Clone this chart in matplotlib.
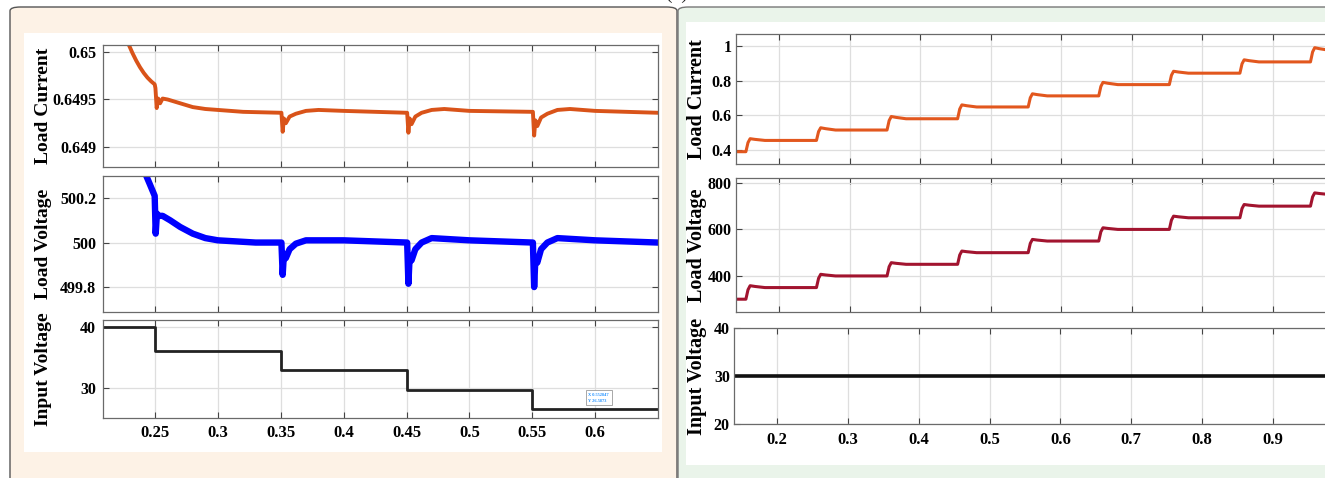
import numpy as np
import matplotlib
matplotlib.use("Agg")
import matplotlib.pyplot as plt
from matplotlib.patches import FancyBboxPatch, Rectangle

# ── DATA ────────────────────────────────────────────────────
# (a) varying input voltage, regulated output
t_in_left = [0.209, 0.25, 0.25, 0.35, 0.35, 0.45, 0.45, 0.55, 0.55, 0.65]
v_in_left = [40.0, 40.0, 36.0, 36.0, 33.0, 33.0, 29.7, 29.7, 26.6, 26.6]

t_cur_left = [0.229, 0.232, 0.235, 0.238, 0.241, 0.244, 0.247, 0.2497, 0.2503, 0.2513,
              0.2525, 0.254, 0.256, 0.26, 0.27, 0.28, 0.29, 0.30, 0.32, 0.3505,
              0.3515, 0.3525, 0.354, 0.357, 0.362, 0.37, 0.38, 0.40, 0.4505, 0.4515,
              0.4525, 0.454, 0.457, 0.462, 0.47, 0.48, 0.50, 0.5505, 0.5515, 0.5525,
              0.554, 0.557, 0.562, 0.57, 0.58, 0.60, 0.65]
i_load_left = [0.65008, 0.64999, 0.64991, 0.64984, 0.64978, 0.64973, 0.64969, 0.64966, 0.64962, 0.64941,
               0.64951, 0.64946, 0.64951, 0.64950, 0.64946, 0.64942, 0.64940, 0.64939, 0.64937, 0.64936,
               0.64916, 0.64930, 0.64925, 0.64932, 0.64935, 0.64938, 0.64939, 0.64938, 0.64936, 0.64915,
               0.64930, 0.64924, 0.64932, 0.64936, 0.64939, 0.64940, 0.64938, 0.64937, 0.64912, 0.64928,
               0.64922, 0.64931, 0.64935, 0.64939, 0.64940, 0.64938, 0.64936]

t_vout_left = [0.243, 0.246, 0.2497, 0.2505, 0.2515, 0.2525, 0.256, 0.262, 0.27, 0.28,
               0.29, 0.30, 0.33, 0.3505, 0.3515, 0.3525, 0.354, 0.357, 0.362, 0.37,
               0.40, 0.4505, 0.4515, 0.4525, 0.454, 0.457, 0.462, 0.47, 0.50, 0.5505,
               0.5515, 0.5525, 0.554, 0.557, 0.562, 0.57, 0.60, 0.65]
v_out_left = [500.30, 500.26, 500.21, 500.04, 500.13, 500.12, 500.12, 500.10, 500.07, 500.04,
              500.02, 500.01, 500.00, 500.00, 499.855, 499.95, 499.93, 499.97, 499.995, 500.01,
              500.01, 500.00, 499.815, 499.94, 499.92, 499.97, 500.00, 500.02, 500.01, 500.00,
              499.80, 499.93, 499.91, 499.97, 500.00, 500.02, 500.01, 500.00]

# (b) constant input voltage, stepped load
t_steps_right = [0.15, 0.25, 0.35, 0.45, 0.55, 0.65, 0.75, 0.85, 0.95]
i_levels_right = [0.39, 0.455, 0.515, 0.58, 0.648, 0.712, 0.777, 0.843, 0.908, 0.975]
i_peaks_right = [0.465, 0.528, 0.593, 0.66, 0.724, 0.79, 0.854, 0.92, 0.99]
v_levels_right = [300, 350, 400, 450, 500, 550, 600, 650, 700, 750]
v_peaks_right = [358, 407, 457, 507, 557, 607, 657, 707, 757]
v_in_right = 30

xticks_left = [0.25, 0.3, 0.35, 0.4, 0.45, 0.5, 0.55, 0.6]
xticks_right = [0.2, 0.3, 0.4, 0.5, 0.6, 0.7, 0.8, 0.9]

# ── STYLE ───────────────────────────────────────────────────
plt.rcParams["font.family"] = ["Liberation Serif", "DejaVu Serif"]
plt.rcParams["font.weight"] = "bold"

W, H = 1325, 478
fig = plt.figure(figsize=(W / 100, H / 100), dpi=100)
fig.patch.set_facecolor("white")


def fx(px):
    return px / W


def fy(py):
    return 1 - py / H


# panel backgrounds
fig.patches.append(FancyBboxPatch((fx(10), fy(490)), fx(667), (490 - 7) / H,
                                  boxstyle="round,pad=0,rounding_size=0.008",
                                  transform=fig.transFigure, facecolor="#fdf2e6",
                                  edgecolor="#555555", linewidth=1.0, zorder=0))
fig.patches.append(FancyBboxPatch((fx(678), fy(490)), fx(700), (490 - 7) / H,
                                  boxstyle="round,pad=0,rounding_size=0.008",
                                  transform=fig.transFigure, facecolor="#eaf4ea",
                                  edgecolor="#777777", linewidth=1.0, zorder=0))
fig.patches.append(Rectangle((fx(24), fy(452)), fx(638), (452 - 33) / H,
                             transform=fig.transFigure, facecolor="white",
                             edgecolor="none", zorder=0.5))
fig.patches.append(Rectangle((fx(686), fy(465)), fx(660), (465 - 22) / H,
                             transform=fig.transFigure, facecolor="white",
                             edgecolor="none", zorder=0.5))
fig.text(fx(677), 1.0 + 1.5 / H, "(b)", ha="center", va="baseline", fontsize=14,
         fontweight="normal", color="#222222")


def make_ax(x0, y_top, x1, y_bot, pad=5):
    ax = fig.add_axes([fx(x0), fy(y_bot), fx(x1 - x0), (y_bot - y_top) / H])
    ax.set_zorder(2)
    ax.set_facecolor("white")
    for s in ax.spines.values():
        s.set_color("#6a6a6a")
        s.set_linewidth(0.9)
    ax.grid(True, color="#dedede", linewidth=0.9)
    ax.set_axisbelow(True)
    ax.tick_params(direction="in", length=4, width=0.8, color="#444444",
                   top=True, right=True, labelsize=11.5, pad=pad)
    return ax


ax_left_px, ax_width_px = {}, {}


def ylab(ax, text, x_px, size):
    ax.yaxis.set_label_coords((x_px - ax_left_px[ax]) / ax_width_px[ax], 0.5)
    ax.set_ylabel(text, fontsize=size, fontweight="bold")


# ── LEFT PANEL ──────────────────────────────────────────────
axL1 = make_ax(103, 45, 658, 167)
axL2 = make_ax(103, 176, 658, 312)
axL3 = make_ax(103, 320, 658, 418)
for a in (axL1, axL2, axL3):
    ax_left_px[a], ax_width_px[a] = 103, 555
    a.set_xlim(0.2086, 0.650)
    a.set_xticks(xticks_left)
    a.tick_params(axis="x", labelsize=12)

axL1.plot(t_cur_left, i_load_left, color="#d95319", linewidth=2.8, solid_joinstyle="round")
axL1.set_ylim(0.648789, 0.650074)
axL1.set_yticks([0.649, 0.6495, 0.65])
axL1.set_yticklabels(["0.649", "0.6495", "0.65"])
axL1.tick_params(labelbottom=False)

axL2.plot(t_vout_left, v_out_left, color="#0000ff", linewidth=4.6, solid_joinstyle="round")
axL2.set_ylim(499.688, 500.299)
axL2.set_yticks([499.8, 500, 500.2])
axL2.set_yticklabels(["499.8", "500", "500.2"])
axL2.tick_params(labelbottom=False)

axL3.plot(t_in_left, v_in_left, color="#222222", linewidth=2.0)
axL3.set_ylim(25.1, 41.15)
axL3.set_yticks([30, 40])
axL3.set_xticklabels(["0.25", "0.3", "0.35", "0.4", "0.45", "0.5", "0.55", "0.6"])
axL3.text(0.5945, 28.4, "X 0.552847\nY 26.5873", fontsize=3.2, color="#1e90ff",
          va="center", ha="left", linespacing=1.6,
          bbox=dict(boxstyle="square,pad=0.6", facecolor="white", edgecolor="#9a9a9a",
                    linewidth=0.6))

ylab(axL1, "Load Current", 52, 14)
ylab(axL2, "Load Voltage", 52, 14)
ylab(axL3, "Input Voltage", 52, 14)

# ── RIGHT PANEL ─────────────────────────────────────────────
axR1 = make_ax(736, 34, 1338, 164, pad=3)
axR2 = make_ax(736, 178, 1338, 312, pad=3)
axR3 = make_ax(734, 328, 1338, 424, pad=3)
for a in (axR1, axR2, axR3):
    ax_left_px[a], ax_width_px[a] = 736, 602
    a.set_xlim(0.139, 0.992)
    a.set_xticks(xticks_right)
    a.tick_params(axis="x", pad=6, labelsize=12)
ax_left_px[axR3], ax_width_px[axR3] = 734, 604


def step_trace(levels, peaks):
    tt, yy = [0.139], [levels[0]]
    for k, ts in enumerate(t_steps_right):
        tt += [ts + 0.003, ts + 0.006, ts + 0.009, ts + 0.016, ts + 0.03]
        yy += [levels[k], levels[k] + 0.7 * (peaks[k] - levels[k]), peaks[k],
               peaks[k] - 0.4 * (peaks[k] - levels[k + 1]), levels[k + 1]]
    tt.append(0.992)
    yy.append(levels[-1])
    return tt, yy


tc, ic = step_trace(i_levels_right, i_peaks_right)
axR1.plot(tc, ic, color="#e2571e", linewidth=2.2, solid_joinstyle="round")
axR1.set_ylim(0.319, 1.069)
axR1.set_yticks([0.4, 0.6, 0.8, 1.0])
axR1.set_yticklabels(["0.4", "0.6", "0.8", "1"])
axR1.tick_params(labelbottom=False)

tv, vv = step_trace(v_levels_right, v_peaks_right)
axR2.plot(tv, vv, color="#a2142f", linewidth=2.2, solid_joinstyle="round")
axR2.set_ylim(245, 821)
axR2.set_yticks([400, 600, 800])
axR2.tick_params(labelbottom=False)

axR3.plot([0.139, 0.992], [v_in_right, v_in_right], color="#111111", linewidth=2.6)
axR3.set_ylim(20, 40)
axR3.set_yticks([20, 30, 40])
axR3.set_xticklabels(["0.2", "0.3", "0.4", "0.5", "0.6", "0.7", "0.8", "0.9"])

ylab(axR1, "Load Current", 707, 14.5)
ylab(axR2, "Load Voltage", 707, 14.5)
ylab(axR3, "Input Voltage", 707, 14.5)

for a in (axL1, axL2, axL3, axR1, axR2, axR3):
    for lab in a.get_xticklabels() + a.get_yticklabels():
        lab.set_fontweight("bold")

fig.savefig("out.png", dpi=100)
